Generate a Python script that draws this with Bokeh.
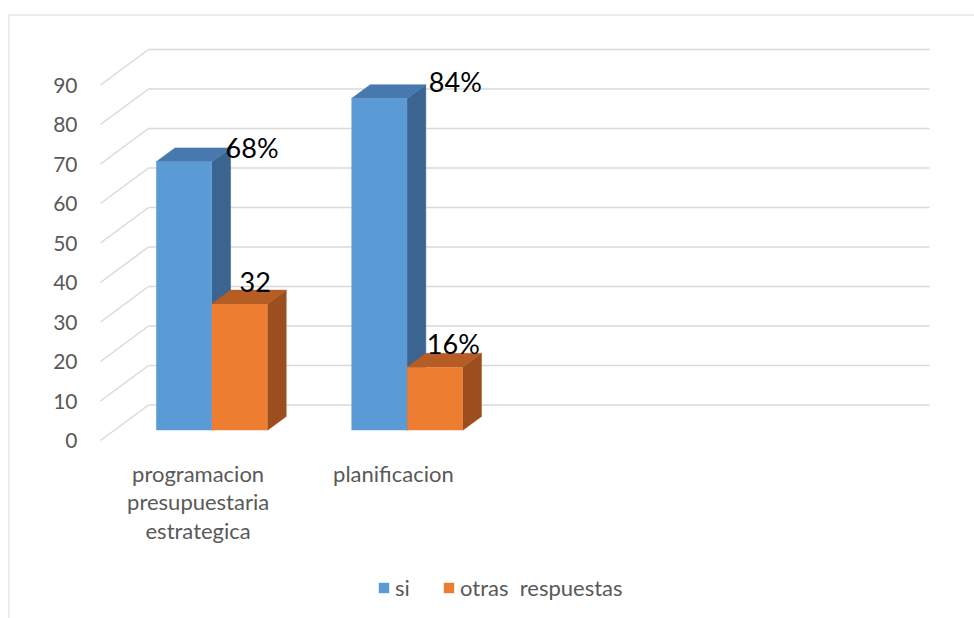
from bokeh.plotting import figure
from bokeh.models import Range1d, Span, Legend, LegendItem, ColumnDataSource
from bokeh.embed import file_html
from bokeh.resources import INLINE
from bokeh.core.properties import value

# ---------------- data ----------------
categories = ["programacion\npresupuestaria\nestrategica", "planificacion", "", ""]
series_names = ["si", "otras  respuestas"]
si_values = [68, 84]
otras_values = [32, 16]
si_labels = ["68%", "84%"]
otras_labels = ["32", "16%"]
y_ticks = [0, 10, 20, 30, 40, 50, 60, 70, 80, 90]

# ---------------- styles ----------------
FONT = "Lato"
GRAY_TXT = "#595959"
GRID = "#D9D9D9"
front_colors = ["#5B9BD5", "#ED7D31"]
top_colors = ["#4779AE", "#B55D24"]
side_colors = ["#3B6590", "#9C4E1E"]

N_CAT = len(categories)
DX = 48 / 195.25      # depth of the floor, in x units
DY = 35.5 / 3.95      # depth of the floor, in y units
F0, F1 = 0.286, 0.676 # bar front / back depth fraction
BAR_W = 0.285
GROUP_START = 0.215

p = figure(width=974, height=618,
           x_range=Range1d(-0.4712, 4.4763), y_range=Range1d(-45.06, 107.85),
           output_backend="svg", toolbar_location=None,
           x_axis_type=None, y_axis_type=None,
           min_border_left=8, min_border_top=14, min_border_right=0, min_border_bottom=0)
p.outline_line_color = None
p.background_fill_color = "white"
p.border_fill_color = "white"

# chart border (left and top edges visible)
p.add_layout(Span(location=p.x_range.start, dimension="height", line_color=GRID, line_width=2))
p.add_layout(Span(location=p.y_range.end, dimension="width", line_color=GRID, line_width=2))

# gridlines: side-wall diagonals and back wall
p.segment(x0=[0] * len(y_ticks), y0=y_ticks,
          x1=[DX] * len(y_ticks), y1=[v + DY for v in y_ticks],
          line_color=GRID, line_width=1.5)
p.segment(x0=[DX] * len(y_ticks), y0=[v + DY for v in y_ticks],
          x1=[N_CAT + DX] * len(y_ticks), y1=[v + DY for v in y_ticks],
          line_color=GRID, line_width=1.5)

# ---------------- 3D bars ----------------
series_values = [si_values, otras_values]
front_renderers = []
for s, vals in enumerate(series_values):
    xl = [i + GROUP_START + s * BAR_W for i in range(len(vals))]
    xr = [x + BAR_W for x in xl]
    side_xs = [[r + F0 * DX, r + F1 * DX, r + F1 * DX, r + F0 * DX] for r in xr]
    side_ys = [[F0 * DY, F1 * DY, v + F1 * DY, v + F0 * DY] for v in vals]
    p.patches(side_xs, side_ys, fill_color=side_colors[s], line_color=side_colors[s], line_width=0.5)
    top_xs = [[l + F0 * DX, r + F0 * DX, r + F1 * DX, l + F1 * DX] for l, r in zip(xl, xr)]
    top_ys = [[v + F0 * DY, v + F0 * DY, v + F1 * DY, v + F1 * DY] for v in vals]
    p.patches(top_xs, top_ys, fill_color=top_colors[s], line_color=top_colors[s], line_width=0.5)
    fr = p.quad(left=[l + F0 * DX for l in xl], right=[r + F0 * DX for r in xr],
                bottom=[F0 * DY] * len(vals), top=[v + F0 * DY for v in vals],
                fill_color=front_colors[s], line_color=None)
    front_renderers.append(fr)

# ---------------- data labels ----------------
label_texts = [si_labels, otras_labels]
label_dx = [[-5, 3], [9, 1]]
label_dy = [[0, -3], [-8, -10]]
for s, vals in enumerate(series_values):
    ax = [i + GROUP_START + BAR_W + F1 * DX for i in range(len(vals))]
    src = ColumnDataSource(dict(x=ax, y=[v + F1 * DY for v in vals], t=label_texts[s],
                                xo=label_dx[s], yo=label_dy[s]))
    p.text(x="x", y="y", text="t", x_offset="xo", y_offset="yo", source=src,
           text_align="left", text_baseline="middle",
           text_font=value(FONT), text_font_size="27px", text_color="black")

# ---------------- axis labels ----------------
p.text(x=[0] * len(y_ticks), y=y_ticks, text=[str(v) for v in y_ticks],
       x_offset=-23, text_align="right", text_baseline="middle",
       text_font=value(FONT), text_font_size="21px", text_color=GRAY_TXT)

p.text(x=[i + 0.5 for i in range(N_CAT)], y=[0] * N_CAT, text=categories,
       y_offset=19, text_align="center", text_baseline="top", text_line_height=1.06,
       text_font=value(FONT), text_font_size="22px", text_color=GRAY_TXT)

# ---------------- legend ----------------
legend = Legend(items=[LegendItem(label=series_names[k], renderers=[front_renderers[k]]) for k in range(2)],
                orientation="horizontal", location=(369, 17),
                glyph_width=13, glyph_height=13, label_standoff=5, spacing=27,
                padding=0, margin=0, border_line_color=None, background_fill_alpha=0,
                label_text_font=FONT, label_text_font_size="22px", label_text_color=GRAY_TXT)
p.add_layout(legend)

open("out.html", "w").write(file_html(p, INLINE))
